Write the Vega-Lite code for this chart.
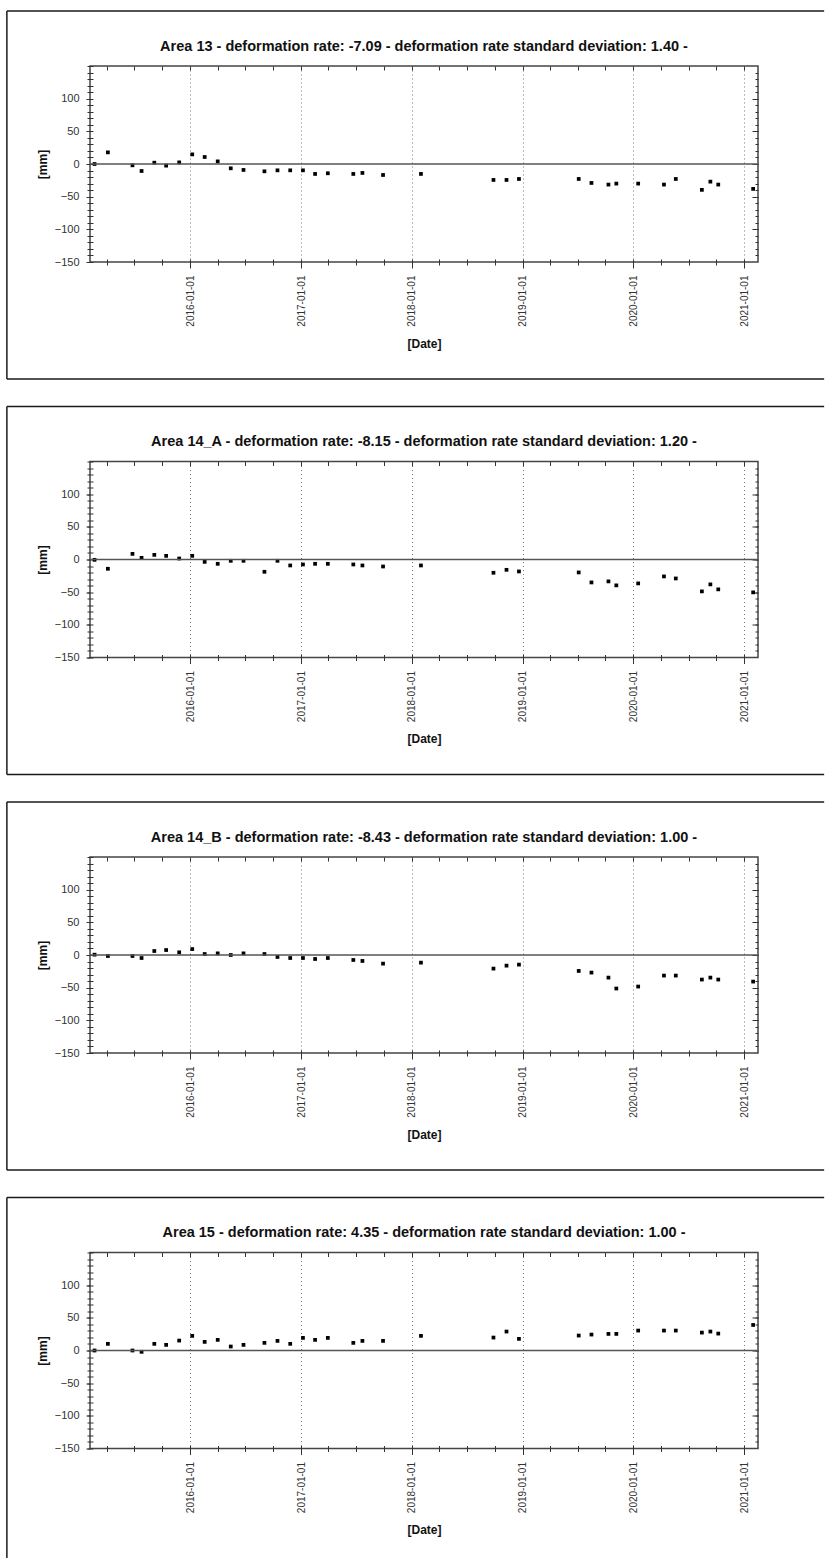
{
"$schema":"https://vega.github.io/schema/vega-lite/v6.json",
"padding":{"left":5,"top":9,"right":0,"bottom":0},
"background":"white",
"spacing":23.5,
"datasets":{
"a13":[{"date":"2015-02-20","mm":0},{"date":"2015-04-05","mm":17.8},{"date":"2015-06-25","mm":-2},{"date":"2015-07-25","mm":-10.7},{"date":"2015-09-05","mm":2},{"date":"2015-10-14","mm":-2.5},{"date":"2015-11-26","mm":2.5},{"date":"2016-01-08","mm":14.7},{"date":"2016-02-18","mm":10.7},{"date":"2016-04-01","mm":4},{"date":"2016-05-14","mm":-6.6},{"date":"2016-06-25","mm":-9.1},{"date":"2016-09-02","mm":-11.2},{"date":"2016-10-15","mm":-9.7},{"date":"2016-11-26","mm":-9.7},{"date":"2017-01-07","mm":-9.7},{"date":"2017-02-16","mm":-15.2},{"date":"2017-03-30","mm":-14.2},{"date":"2017-06-22","mm":-15.2},{"date":"2017-07-22","mm":-13.7},{"date":"2017-09-28","mm":-16.8},{"date":"2018-01-31","mm":-15.2},{"date":"2018-09-27","mm":-24.4},{"date":"2018-11-09","mm":-24.4},{"date":"2018-12-20","mm":-22.9},{"date":"2019-07-05","mm":-22.9},{"date":"2019-08-16","mm":-29},{"date":"2019-10-11","mm":-31.5},{"date":"2019-11-06","mm":-30},{"date":"2020-01-17","mm":-30},{"date":"2020-04-11","mm":-31.5},{"date":"2020-05-20","mm":-22.9},{"date":"2020-08-14","mm":-39.6},{"date":"2020-09-11","mm":-27},{"date":"2020-10-07","mm":-31.5},{"date":"2021-01-30","mm":-38.1}],
"a14a":[{"date":"2015-02-20","mm":-0.5},{"date":"2015-04-05","mm":-14.2},{"date":"2015-06-25","mm":8.6},{"date":"2015-07-25","mm":2.5},{"date":"2015-09-05","mm":7.1},{"date":"2015-10-14","mm":5.6},{"date":"2015-11-26","mm":1.5},{"date":"2016-01-08","mm":5.6},{"date":"2016-02-18","mm":-3.6},{"date":"2016-04-01","mm":-6.6},{"date":"2016-05-14","mm":-2},{"date":"2016-06-25","mm":-2},{"date":"2016-09-02","mm":-18.8},{"date":"2016-10-15","mm":-2},{"date":"2016-11-26","mm":-9.1},{"date":"2017-01-07","mm":-7.6},{"date":"2017-02-16","mm":-6.6},{"date":"2017-03-30","mm":-6.6},{"date":"2017-06-22","mm":-7.6},{"date":"2017-07-22","mm":-9.1},{"date":"2017-09-28","mm":-10.7},{"date":"2018-01-31","mm":-9.1},{"date":"2018-09-27","mm":-20.3},{"date":"2018-11-09","mm":-15.8},{"date":"2018-12-20","mm":-18.3},{"date":"2019-07-05","mm":-19.8},{"date":"2019-08-16","mm":-35.1},{"date":"2019-10-11","mm":-33.5},{"date":"2019-11-06","mm":-39.6},{"date":"2020-01-17","mm":-36.6},{"date":"2020-04-11","mm":-25.9},{"date":"2020-05-20","mm":-29},{"date":"2020-08-14","mm":-48.8},{"date":"2020-09-11","mm":-38.1},{"date":"2020-10-07","mm":-45.7},{"date":"2021-01-30","mm":-50.3}],
"a14b":[{"date":"2015-02-20","mm":0.5},{"date":"2015-04-05","mm":-1.5},{"date":"2015-06-25","mm":-1.5},{"date":"2015-07-25","mm":-4.6},{"date":"2015-09-05","mm":6.1},{"date":"2015-10-14","mm":7.6},{"date":"2015-11-26","mm":4.1},{"date":"2016-01-08","mm":9.1},{"date":"2016-02-18","mm":1.5},{"date":"2016-04-01","mm":2.5},{"date":"2016-05-14","mm":0},{"date":"2016-06-25","mm":2.5},{"date":"2016-09-02","mm":1.5},{"date":"2016-10-15","mm":-3},{"date":"2016-11-26","mm":-4.6},{"date":"2017-01-07","mm":-4.6},{"date":"2017-02-16","mm":-6.1},{"date":"2017-03-30","mm":-4.6},{"date":"2017-06-22","mm":-7.6},{"date":"2017-07-22","mm":-9.1},{"date":"2017-09-28","mm":-13.2},{"date":"2018-01-31","mm":-11.7},{"date":"2018-09-27","mm":-20.8},{"date":"2018-11-09","mm":-16.3},{"date":"2018-12-20","mm":-14.7},{"date":"2019-07-05","mm":-24.4},{"date":"2019-08-16","mm":-26.9},{"date":"2019-10-11","mm":-34.6},{"date":"2019-11-06","mm":-51.3},{"date":"2020-01-17","mm":-48.3},{"date":"2020-04-11","mm":-31.5},{"date":"2020-05-20","mm":-31.5},{"date":"2020-08-14","mm":-37.6},{"date":"2020-09-11","mm":-34.6},{"date":"2020-10-07","mm":-37.6},{"date":"2021-01-30","mm":-40.7}],
"a15":[{"date":"2015-02-20","mm":0},{"date":"2015-04-05","mm":10.2},{"date":"2015-06-25","mm":0},{"date":"2015-07-25","mm":-2},{"date":"2015-09-05","mm":10.2},{"date":"2015-10-14","mm":8.6},{"date":"2015-11-26","mm":15.2},{"date":"2016-01-08","mm":22.4},{"date":"2016-02-18","mm":13.2},{"date":"2016-04-01","mm":16.3},{"date":"2016-05-14","mm":6.1},{"date":"2016-06-25","mm":8.6},{"date":"2016-09-02","mm":11.7},{"date":"2016-10-15","mm":14.7},{"date":"2016-11-26","mm":10.2},{"date":"2017-01-07","mm":19.3},{"date":"2017-02-16","mm":16.3},{"date":"2017-03-30","mm":19.3},{"date":"2017-06-22","mm":11.7},{"date":"2017-07-22","mm":14.7},{"date":"2017-09-28","mm":14.7},{"date":"2018-01-31","mm":22.4},{"date":"2018-09-27","mm":19.8},{"date":"2018-11-09","mm":29},{"date":"2018-12-20","mm":17.8},{"date":"2019-07-05","mm":22.9},{"date":"2019-08-16","mm":24.4},{"date":"2019-10-11","mm":25.4},{"date":"2019-11-06","mm":25.4},{"date":"2020-01-17","mm":30.5},{"date":"2020-04-11","mm":30.5},{"date":"2020-05-20","mm":30.5},{"date":"2020-08-14","mm":27.4},{"date":"2020-09-11","mm":29},{"date":"2020-10-07","mm":25.9},{"date":"2021-01-30","mm":39.1}]
},
"vconcat":[
{"width":668,"height":196,
"title":{"text":"Area 13 - deformation rate: -7.09 - deformation rate standard deviation: 1.40 -"},
"resolve":{"axis":{"x":"independent","y":"independent"}},
"layer":[
{"data":{"name":"a13"},"mark":{"type":"square","size":14,"color":"#000","opacity":1},
"encoding":{"x":{"field":"date","type":"temporal","scale":{"domain":[{"year":2015,"month":2,"date":5},{"year":2021,"month":2,"date":15}],"nice":false},"axis":{"orient":"bottom","tickCount":{"interval":"year","step":1},"format":"%Y-%m-%d","labelAngle":-90,"labelAlign":"right","labelBaseline":"middle","labelFontSize":10,"labelPadding":7,"tickSize":6,"grid":true,"gridDash":[1,3],"gridColor":"#777","gridWidth":1,"title":"[Date]","titleFontSize":12,"titleFontWeight":"bold","titlePadding":12}},
"y":{"field":"mm","type":"quantitative","scale":{"domain":[-150,150],"nice":false},"axis":{"orient":"left","values":[-150,-100,-50,0,50,100],"tickSize":4,"labelFontSize":11,"labelPadding":7,"title":"[mm]","titleFontSize":12,"titleFontWeight":"bold","titlePadding":5}}}},
{"data":{"values":[{}]},"mark":{"type":"rule","color":"#555","strokeWidth":1.5},
"encoding":{"x":{"datum":{"year":2015,"month":2,"date":5},"type":"temporal","scale":{"domain":[{"year":2015,"month":2,"date":5},{"year":2021,"month":2,"date":15}],"nice":false},"axis":{"orient":"bottom","tickCount":{"interval":"month","step":3},"labels":false,"tickSize":6,"offset":-3,"title":null}},"x2":{"datum":{"year":2021,"month":2,"date":15}},
"y":{"datum":0,"type":"quantitative","scale":{"domain":[-150,150],"nice":false},"axis":{"orient":"left","values":[-150,-140,-130,-120,-110,-100,-90,-80,-70,-60,-50,-40,-30,-20,-10,0,10,20,30,40,50,60,70,80,90,100,110,120,130,140,150],"labels":false,"tickSize":6,"offset":-3,"title":null}}}},
{"data":{"values":[{}]},"mark":{"type":"rule","color":"#1a1a1a","strokeWidth":1.5},
"encoding":{"x":{"datum":{"year":2014,"month":5,"date":7},"type":"temporal","scale":{"domain":[{"year":2015,"month":2,"date":5},{"year":2021,"month":2,"date":15}],"nice":false},"axis":{"orient":"top","tickCount":{"interval":"month","step":3},"labels":false,"tickSize":4,"offset":-4,"title":null}},"x2":{"datum":{"year":2021,"month":9,"date":21}},
"y":{"datum":234,"type":"quantitative","scale":{"domain":[-150,150],"nice":false},"axis":{"orient":"right","values":[-100,-50,0,50,100],"labels":false,"tickSize":6,"offset":-6,"title":null}}}},
{"data":{"values":[{}]},"mark":{"type":"rule","color":"#1a1a1a","strokeWidth":1.5},
"encoding":{"x":{"datum":{"year":2014,"month":5,"date":7},"type":"temporal","scale":{"domain":[{"year":2015,"month":2,"date":5},{"year":2021,"month":2,"date":15}],"nice":false},"axis":null},
"y":{"datum":234,"type":"quantitative","scale":{"domain":[-150,150],"nice":false},"axis":{"orient":"right","values":[-140,-130,-120,-110,-100,-90,-80,-70,-60,-50,-40,-30,-20,-10,0,10,20,30,40,50,60,70,80,90,100,110,120,130,140],"labels":false,"tickSize":3,"offset":-3,"title":null}},"y2":{"datum":-329}}},
{"data":{"values":[{}]},"mark":{"type":"rule","color":"#1a1a1a","strokeWidth":1.5},
"encoding":{"x":{"datum":{"year":2014,"month":5,"date":7},"type":"temporal","scale":{"domain":[{"year":2015,"month":2,"date":5},{"year":2021,"month":2,"date":15}],"nice":false},"axis":null},"x2":{"datum":{"year":2021,"month":9,"date":21}},
"y":{"datum":-329,"type":"quantitative","scale":{"domain":[-150,150],"nice":false},"axis":null}}}
]},
{"width":668,"height":196,
"title":{"text":"Area 14_A - deformation rate: -8.15 - deformation rate standard deviation: 1.20 -"},
"resolve":{"axis":{"x":"independent","y":"independent"}},
"layer":[
{"data":{"name":"a14a"},"mark":{"type":"square","size":14,"color":"#000","opacity":1},
"encoding":{"x":{"field":"date","type":"temporal","scale":{"domain":[{"year":2015,"month":2,"date":5},{"year":2021,"month":2,"date":15}],"nice":false},"axis":{"orient":"bottom","tickCount":{"interval":"year","step":1},"format":"%Y-%m-%d","labelAngle":-90,"labelAlign":"right","labelBaseline":"middle","labelFontSize":10,"labelPadding":7,"tickSize":6,"grid":true,"gridDash":[1,3],"gridColor":"#777","gridWidth":1,"title":"[Date]","titleFontSize":12,"titleFontWeight":"bold","titlePadding":12}},
"y":{"field":"mm","type":"quantitative","scale":{"domain":[-150,150],"nice":false},"axis":{"orient":"left","values":[-150,-100,-50,0,50,100],"tickSize":4,"labelFontSize":11,"labelPadding":7,"title":"[mm]","titleFontSize":12,"titleFontWeight":"bold","titlePadding":5}}}},
{"data":{"values":[{}]},"mark":{"type":"rule","color":"#555","strokeWidth":1.5},
"encoding":{"x":{"datum":{"year":2015,"month":2,"date":5},"type":"temporal","scale":{"domain":[{"year":2015,"month":2,"date":5},{"year":2021,"month":2,"date":15}],"nice":false},"axis":{"orient":"bottom","tickCount":{"interval":"month","step":3},"labels":false,"tickSize":6,"offset":-3,"title":null}},"x2":{"datum":{"year":2021,"month":2,"date":15}},
"y":{"datum":0,"type":"quantitative","scale":{"domain":[-150,150],"nice":false},"axis":{"orient":"left","values":[-150,-140,-130,-120,-110,-100,-90,-80,-70,-60,-50,-40,-30,-20,-10,0,10,20,30,40,50,60,70,80,90,100,110,120,130,140,150],"labels":false,"tickSize":6,"offset":-3,"title":null}}}},
{"data":{"values":[{}]},"mark":{"type":"rule","color":"#1a1a1a","strokeWidth":1.5},
"encoding":{"x":{"datum":{"year":2014,"month":5,"date":7},"type":"temporal","scale":{"domain":[{"year":2015,"month":2,"date":5},{"year":2021,"month":2,"date":15}],"nice":false},"axis":{"orient":"top","tickCount":{"interval":"month","step":3},"labels":false,"tickSize":4,"offset":-4,"title":null}},"x2":{"datum":{"year":2021,"month":9,"date":21}},
"y":{"datum":234,"type":"quantitative","scale":{"domain":[-150,150],"nice":false},"axis":{"orient":"right","values":[-100,-50,0,50,100],"labels":false,"tickSize":6,"offset":-6,"title":null}}}},
{"data":{"values":[{}]},"mark":{"type":"rule","color":"#1a1a1a","strokeWidth":1.5},
"encoding":{"x":{"datum":{"year":2014,"month":5,"date":7},"type":"temporal","scale":{"domain":[{"year":2015,"month":2,"date":5},{"year":2021,"month":2,"date":15}],"nice":false},"axis":null},
"y":{"datum":234,"type":"quantitative","scale":{"domain":[-150,150],"nice":false},"axis":{"orient":"right","values":[-140,-130,-120,-110,-100,-90,-80,-70,-60,-50,-40,-30,-20,-10,0,10,20,30,40,50,60,70,80,90,100,110,120,130,140],"labels":false,"tickSize":3,"offset":-3,"title":null}},"y2":{"datum":-329}}},
{"data":{"values":[{}]},"mark":{"type":"rule","color":"#1a1a1a","strokeWidth":1.5},
"encoding":{"x":{"datum":{"year":2014,"month":5,"date":7},"type":"temporal","scale":{"domain":[{"year":2015,"month":2,"date":5},{"year":2021,"month":2,"date":15}],"nice":false},"axis":null},"x2":{"datum":{"year":2021,"month":9,"date":21}},
"y":{"datum":-329,"type":"quantitative","scale":{"domain":[-150,150],"nice":false},"axis":null}}}
]},
{"width":668,"height":196,
"title":{"text":"Area 14_B - deformation rate: -8.43 - deformation rate standard deviation: 1.00 -"},
"resolve":{"axis":{"x":"independent","y":"independent"}},
"layer":[
{"data":{"name":"a14b"},"mark":{"type":"square","size":14,"color":"#000","opacity":1},
"encoding":{"x":{"field":"date","type":"temporal","scale":{"domain":[{"year":2015,"month":2,"date":5},{"year":2021,"month":2,"date":15}],"nice":false},"axis":{"orient":"bottom","tickCount":{"interval":"year","step":1},"format":"%Y-%m-%d","labelAngle":-90,"labelAlign":"right","labelBaseline":"middle","labelFontSize":10,"labelPadding":7,"tickSize":6,"grid":true,"gridDash":[1,3],"gridColor":"#777","gridWidth":1,"title":"[Date]","titleFontSize":12,"titleFontWeight":"bold","titlePadding":12}},
"y":{"field":"mm","type":"quantitative","scale":{"domain":[-150,150],"nice":false},"axis":{"orient":"left","values":[-150,-100,-50,0,50,100],"tickSize":4,"labelFontSize":11,"labelPadding":7,"title":"[mm]","titleFontSize":12,"titleFontWeight":"bold","titlePadding":5}}}},
{"data":{"values":[{}]},"mark":{"type":"rule","color":"#555","strokeWidth":1.5},
"encoding":{"x":{"datum":{"year":2015,"month":2,"date":5},"type":"temporal","scale":{"domain":[{"year":2015,"month":2,"date":5},{"year":2021,"month":2,"date":15}],"nice":false},"axis":{"orient":"bottom","tickCount":{"interval":"month","step":3},"labels":false,"tickSize":6,"offset":-3,"title":null}},"x2":{"datum":{"year":2021,"month":2,"date":15}},
"y":{"datum":0,"type":"quantitative","scale":{"domain":[-150,150],"nice":false},"axis":{"orient":"left","values":[-150,-140,-130,-120,-110,-100,-90,-80,-70,-60,-50,-40,-30,-20,-10,0,10,20,30,40,50,60,70,80,90,100,110,120,130,140,150],"labels":false,"tickSize":6,"offset":-3,"title":null}}}},
{"data":{"values":[{}]},"mark":{"type":"rule","color":"#1a1a1a","strokeWidth":1.5},
"encoding":{"x":{"datum":{"year":2014,"month":5,"date":7},"type":"temporal","scale":{"domain":[{"year":2015,"month":2,"date":5},{"year":2021,"month":2,"date":15}],"nice":false},"axis":{"orient":"top","tickCount":{"interval":"month","step":3},"labels":false,"tickSize":4,"offset":-4,"title":null}},"x2":{"datum":{"year":2021,"month":9,"date":21}},
"y":{"datum":234,"type":"quantitative","scale":{"domain":[-150,150],"nice":false},"axis":{"orient":"right","values":[-100,-50,0,50,100],"labels":false,"tickSize":6,"offset":-6,"title":null}}}},
{"data":{"values":[{}]},"mark":{"type":"rule","color":"#1a1a1a","strokeWidth":1.5},
"encoding":{"x":{"datum":{"year":2014,"month":5,"date":7},"type":"temporal","scale":{"domain":[{"year":2015,"month":2,"date":5},{"year":2021,"month":2,"date":15}],"nice":false},"axis":null},
"y":{"datum":234,"type":"quantitative","scale":{"domain":[-150,150],"nice":false},"axis":{"orient":"right","values":[-140,-130,-120,-110,-100,-90,-80,-70,-60,-50,-40,-30,-20,-10,0,10,20,30,40,50,60,70,80,90,100,110,120,130,140],"labels":false,"tickSize":3,"offset":-3,"title":null}},"y2":{"datum":-329}}},
{"data":{"values":[{}]},"mark":{"type":"rule","color":"#1a1a1a","strokeWidth":1.5},
"encoding":{"x":{"datum":{"year":2014,"month":5,"date":7},"type":"temporal","scale":{"domain":[{"year":2015,"month":2,"date":5},{"year":2021,"month":2,"date":15}],"nice":false},"axis":null},"x2":{"datum":{"year":2021,"month":9,"date":21}},
"y":{"datum":-329,"type":"quantitative","scale":{"domain":[-150,150],"nice":false},"axis":null}}}
]},
{"width":668,"height":196,
"title":{"text":"Area 15 - deformation rate: 4.35 - deformation rate standard deviation: 1.00 -"},
"resolve":{"axis":{"x":"independent","y":"independent"}},
"layer":[
{"data":{"name":"a15"},"mark":{"type":"square","size":14,"color":"#000","opacity":1},
"encoding":{"x":{"field":"date","type":"temporal","scale":{"domain":[{"year":2015,"month":2,"date":5},{"year":2021,"month":2,"date":15}],"nice":false},"axis":{"orient":"bottom","tickCount":{"interval":"year","step":1},"format":"%Y-%m-%d","labelAngle":-90,"labelAlign":"right","labelBaseline":"middle","labelFontSize":10,"labelPadding":7,"tickSize":6,"grid":true,"gridDash":[1,3],"gridColor":"#777","gridWidth":1,"title":"[Date]","titleFontSize":12,"titleFontWeight":"bold","titlePadding":12}},
"y":{"field":"mm","type":"quantitative","scale":{"domain":[-150,150],"nice":false},"axis":{"orient":"left","values":[-150,-100,-50,0,50,100],"tickSize":4,"labelFontSize":11,"labelPadding":7,"title":"[mm]","titleFontSize":12,"titleFontWeight":"bold","titlePadding":5}}}},
{"data":{"values":[{}]},"mark":{"type":"rule","color":"#555","strokeWidth":1.5},
"encoding":{"x":{"datum":{"year":2015,"month":2,"date":5},"type":"temporal","scale":{"domain":[{"year":2015,"month":2,"date":5},{"year":2021,"month":2,"date":15}],"nice":false},"axis":{"orient":"bottom","tickCount":{"interval":"month","step":3},"labels":false,"tickSize":6,"offset":-3,"title":null}},"x2":{"datum":{"year":2021,"month":2,"date":15}},
"y":{"datum":0,"type":"quantitative","scale":{"domain":[-150,150],"nice":false},"axis":{"orient":"left","values":[-150,-140,-130,-120,-110,-100,-90,-80,-70,-60,-50,-40,-30,-20,-10,0,10,20,30,40,50,60,70,80,90,100,110,120,130,140,150],"labels":false,"tickSize":6,"offset":-3,"title":null}}}},
{"data":{"values":[{}]},"mark":{"type":"rule","color":"#1a1a1a","strokeWidth":1.5},
"encoding":{"x":{"datum":{"year":2014,"month":5,"date":7},"type":"temporal","scale":{"domain":[{"year":2015,"month":2,"date":5},{"year":2021,"month":2,"date":15}],"nice":false},"axis":{"orient":"top","tickCount":{"interval":"month","step":3},"labels":false,"tickSize":4,"offset":-4,"title":null}},"x2":{"datum":{"year":2021,"month":9,"date":21}},
"y":{"datum":234,"type":"quantitative","scale":{"domain":[-150,150],"nice":false},"axis":{"orient":"right","values":[-100,-50,0,50,100],"labels":false,"tickSize":6,"offset":-6,"title":null}}}},
{"data":{"values":[{}]},"mark":{"type":"rule","color":"#1a1a1a","strokeWidth":1.5},
"encoding":{"x":{"datum":{"year":2014,"month":5,"date":7},"type":"temporal","scale":{"domain":[{"year":2015,"month":2,"date":5},{"year":2021,"month":2,"date":15}],"nice":false},"axis":null},
"y":{"datum":234,"type":"quantitative","scale":{"domain":[-150,150],"nice":false},"axis":{"orient":"right","values":[-140,-130,-120,-110,-100,-90,-80,-70,-60,-50,-40,-30,-20,-10,0,10,20,30,40,50,60,70,80,90,100,110,120,130,140],"labels":false,"tickSize":3,"offset":-3,"title":null}},"y2":{"datum":-320}}}
]}
],
"config":{
"view":{"stroke":"#444","strokeWidth":1.5},
"font":"Liberation Sans",
"axis":{"labelFont":"Liberation Sans","titleFont":"Liberation Sans","labelColor":"#333","tickColor":"#333","titleColor":"#111","tickWidth":1,"domain":false,"grid":false,"labelFlush":false},
"title":{"font":"Liberation Sans","fontSize":14.5,"fontWeight":"bold","color":"#111","anchor":"middle","frame":"group","baseline":"middle","offset":-44}
}
}
